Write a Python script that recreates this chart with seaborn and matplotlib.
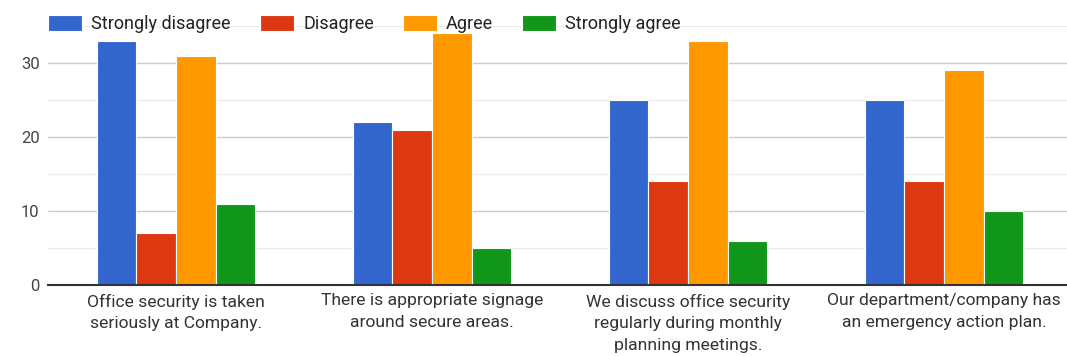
import pandas as pd
import matplotlib
matplotlib.use("Agg")
import matplotlib.pyplot as plt
import seaborn as sns
from matplotlib.ticker import MultipleLocator

QUESTIONS = [
    "Office security is taken\nseriously at Company.",
    "There is appropriate signage\naround secure areas.",
    "We discuss office security\nregularly during monthly\nplanning meetings.",
    "Our department/company has\nan emergency action plan.",
]
ANSWERS = ["Strongly disagree", "Disagree", "Agree", "Strongly agree"]
STRONGLY_DISAGREE = [33, 22, 25, 25]
DISAGREE = [7, 21, 14, 14]
AGREE = [31, 34, 33, 29]
STRONGLY_AGREE = [11, 5, 6, 10]

COLORS = ["#3366CC", "#DC3912", "#FF9900", "#109618"]

sns.set_theme(style="white")
plt.rcParams["font.family"] = ["Roboto", "DejaVu Sans"]

rows = []
for answer, values in zip(ANSWERS, [STRONGLY_DISAGREE, DISAGREE, AGREE, STRONGLY_AGREE]):
    for q, v in zip(QUESTIONS, values):
        rows.append({"question": q, "answer": answer, "count": v})
df = pd.DataFrame(rows)

fig = plt.figure(figsize=(10.67, 3.56), dpi=100)
ax = fig.add_axes([0.045, 0.199, 0.955, 0.728])

sns.barplot(
    data=df, x="question", y="count", hue="answer", hue_order=ANSWERS,
    order=QUESTIONS, palette=COLORS, width=0.62, ax=ax,
    edgecolor="white", linewidth=0.8, saturation=1,
)

ax.set_ylim(0, 35)
ax.set_xlim(-0.5, 3.48)
ax.yaxis.set_major_locator(MultipleLocator(10))
ax.yaxis.set_minor_locator(MultipleLocator(5))
ax.grid(axis="y", which="major", color="#cccccc", linewidth=1)
ax.grid(axis="y", which="minor", color="#ebebeb", linewidth=1)
ax.set_axisbelow(True)
for side in ["top", "right", "left"]:
    ax.spines[side].set_visible(False)
ax.spines["bottom"].set_color("#333333")
ax.spines["bottom"].set_linewidth(1.5)
ax.tick_params(axis="y", which="both", length=0, labelsize=12, colors="#444444", pad=6)
ax.tick_params(axis="x", which="both", length=0, labelsize=12.6, colors="#333333", pad=6)
for lbl in ax.get_xticklabels():
    lbl.set_linespacing(1.55)
ax.set_xlabel("")
ax.set_ylabel("")

ax.legend(
    loc="lower left", bbox_to_anchor=(0.0, 0.972), ncol=4, frameon=False,
    fontsize=13, handlelength=1.9, handleheight=0.95, handletextpad=0.5,
    columnspacing=1.6, borderaxespad=0, borderpad=0, labelcolor="#222222",
)

fig.savefig("out.png", dpi=100)
